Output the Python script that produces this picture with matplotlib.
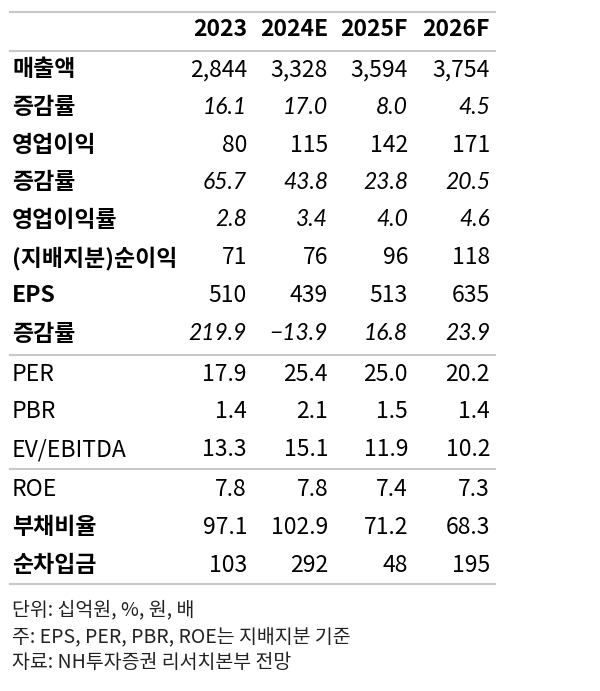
import matplotlib
matplotlib.use("Agg")
import matplotlib.pyplot as plt
from matplotlib.lines import Line2D

W, H = 600, 691

columns = ["2023", "2024E", "2025F", "2026F"]
row_labels = ["매출액", "증감률", "영업이익", "증감률", "영업이익률", "(지배지분)순이익", "EPS",
              "증감률", "PER", "PBR", "EV/EBITDA", "ROE", "부채비율", "순차입금"]
row_values = [
    ["2,844", "3,328", "3,594", "3,754"],
    ["16.1", "17.0", "8.0", "4.5"],
    ["80", "115", "142", "171"],
    ["65.7", "43.8", "23.8", "20.5"],
    ["2.8", "3.4", "4.0", "4.6"],
    ["71", "76", "96", "118"],
    ["510", "439", "513", "635"],
    ["219.9", "-13.9", "16.8", "23.9"],
    ["17.9", "25.4", "25.0", "20.2"],
    ["1.4", "2.1", "1.5", "1.4"],
    ["13.3", "15.1", "11.9", "10.2"],
    ["7.8", "7.8", "7.4", "7.3"],
    ["97.1", "102.9", "71.2", "68.3"],
    ["103", "292", "48", "195"],
]
italic_rows = [1, 3, 4, 7]
bold_rows = [0, 2, 5, 6, 12, 13]
notes = ["단위: 십억원, %, 원, 배",
         "주: EPS, PER, PBR, ROE는 지배지분 기준",
         "자료: NH투자증권 리서치본부 전망"]

KR = "Noto Sans CJK KR"
fig = plt.figure(figsize=(W / 100, H / 100), dpi=100)
fig.patch.set_facecolor("white")


def fy(y):
    return 1 - y / H


def fx(x):
    return x / W


col_x = [247, 328, 408, 490]
row_y = [70, 107, 145, 182, 220, 258, 296, 334, 374, 412, 450, 489, 527, 565]
fs = 16.5

for x, c in zip(col_x, columns):
    fig.text(fx(x), fy(30), c, ha="right", va="center", fontsize=fs,
             fontweight="bold", family=[KR])

for i, (lab, vals) in enumerate(zip(row_labels, row_values)):
    y = fy(row_y[i])
    if i in italic_rows:
        fam, style, wt = ["Lato", KR], "italic", "bold"
        vfam = ["Lato"]
    else:
        fam, style, wt = [KR], "normal", "bold" if i in bold_rows else "medium"
        vfam = [KR]
    fig.text(fx(12), y, lab, ha="left", va="center", fontsize=fs,
             fontweight=wt, style=style, family=fam)
    for x, v in zip(col_x, vals):
        fig.text(fx(x), y, v.replace("-", "\u2212"), ha="right", va="center",
                 fontsize=fs, style=style, family=vfam)

for y in [12, 51, 355, 469, 584]:
    fig.add_artist(Line2D([fx(10), fx(495)], [fy(y), fy(y)], color="#c8c8c8",
                          lw=1.5, transform=fig.transFigure))

for k, n in enumerate(notes):
    fig.text(fx(12), fy(610 + 26.5 * k), n, ha="left", va="center",
             fontsize=14, family=[KR], color="#222222")

fig.savefig("out.png", dpi=100, facecolor="white")
